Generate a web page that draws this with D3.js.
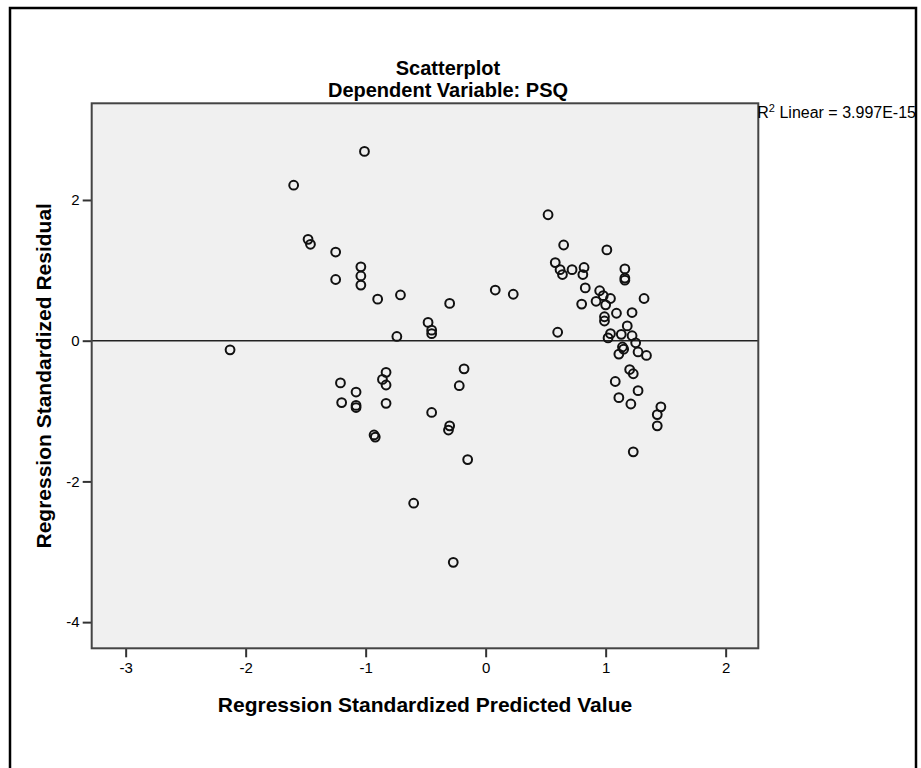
<!DOCTYPE html>
<html>
<head>
<meta charset="utf-8">
<script src="https://cdn.jsdelivr.net/npm/d3@7"></script>
<style>
  body { margin: 0; background: #fff; }
  text { font-family: Arial, 'Liberation Sans', sans-serif; fill: #000; }
</style>
</head>
<body>
<div id="chart"></div>
<script>
// 标题和文字
const titleText = 'Scatterplot'
const subTitleText = 'Dependent Variable: PSQ'
const xtitle = 'Regression Standardized Predicted Value'
const ytitle = 'Regression Standardized Residual'
const r2Text = ' Linear = 3.997E-15'

// 刻度
const xTicks = [-3, -2, -1, 0, 1, 2]
const yTicks = [-4, -2, 0, 2]

// 散点数据 (预测值, 残差)
const predicted = [
  -1.01, -1.60, -1.48, -1.46, -1.25, -1.25, -1.04, -1.04, -1.04, -0.90,
  -2.13, -0.71, -0.30, 0.08, 0.23, -0.48, -0.45, -0.45, -0.74, -0.18,
  -0.22, -0.83, -0.86, -0.83, -1.21, -1.08, -1.20, -1.08, -1.08, -0.83,
  -0.45, -0.30, -0.31, -0.93, -0.92, -0.15, -0.60, -0.27,
  0.52, 0.65, 1.01, 0.58, 0.62, 0.64, 0.72, 0.82, 0.81, 1.16,
  1.16, 1.16, 0.83, 1.32, 0.95, 0.98, 1.04, 0.92, 1.00, 0.80,
  1.09, 1.22, 0.99, 0.99, 1.18, 0.60, 1.04, 1.02, 1.13, 1.22,
  1.25, 1.14, 1.15, 1.11, 1.27, 1.34, 1.20, 1.23, 1.08, 1.27,
  1.11, 1.21, 1.46, 1.43, 1.43, 1.23
]
const residual = [
  2.69, 2.21, 1.44, 1.37, 1.26, 0.87, 1.05, 0.92, 0.79, 0.59,
  -0.13, 0.65, 0.53, 0.72, 0.66, 0.26, 0.15, 0.10, 0.06, -0.40,
  -0.64, -0.45, -0.55, -0.63, -0.60, -0.73, -0.88, -0.92, -0.95, -0.89,
  -1.02, -1.21, -1.27, -1.34, -1.37, -1.69, -2.31, -3.15,
  1.79, 1.36, 1.29, 1.11, 1.01, 0.94, 1.01, 1.04, 0.94, 1.02,
  0.89, 0.86, 0.75, 0.60, 0.71, 0.64, 0.60, 0.56, 0.51, 0.52,
  0.39, 0.40, 0.34, 0.28, 0.21, 0.12, 0.10, 0.04, 0.09, 0.07,
  -0.03, -0.09, -0.12, -0.19, -0.16, -0.21, -0.41, -0.47, -0.58, -0.71,
  -0.81, -0.90, -0.94, -1.05, -1.21, -1.58
]

const xDomain = [-3.283, 2.272]
const yDomain = [-4.372, 3.374]

const width = 921
const height = 768
const plot = { left: 91.7, top: 103.3, right: 758.3, bottom: 648.3 }

let svg = d3.select('#chart').append('svg').attr('width', width).attr('height', height)

// 外框
svg.append('rect').attr('x', 10).attr('y', 8).attr('width', 906).attr('height', 800)
  .attr('fill', '#fff').attr('stroke', '#000').attr('stroke-width', 2.5)

// 标题
const midX = 448
svg.append('text').attr('x', midX).attr('y', 75).attr('text-anchor', 'middle')
  .attr('style', 'font-size: 20px; font-weight: bold;').text(titleText)
svg.append('text').attr('x', midX).attr('y', 97).attr('text-anchor', 'middle')
  .attr('style', 'font-size: 20px; font-weight: bold;').text(subTitleText)

// 比例尺
let xlinear = d3.scaleLinear().domain(xDomain).range([plot.left, plot.right])
let ylinear = d3.scaleLinear().domain(yDomain).range([plot.bottom, plot.top])

// 背景
svg.append('rect').attr('x', plot.left).attr('y', plot.top)
  .attr('width', plot.right - plot.left).attr('height', plot.bottom - plot.top)
  .attr('fill', '#f0f0f0')

// 横坐标
let xAxis = d3.axisBottom(xlinear).tickValues(xTicks).tickSize(9).tickPadding(5).tickFormat(d => String(d))
let gx = svg.append('g').attr('class', 'xAxis').attr('transform', 'translate(0,' + plot.bottom + ')').call(xAxis)
gx.select('.domain').remove()
gx.selectAll('line').attr('stroke', '#333').attr('stroke-width', 2)
gx.selectAll('text').attr('style', 'font-size: 15px;')

// 纵坐标
let yAxis = d3.axisLeft(ylinear).tickValues(yTicks).tickSize(9).tickPadding(3).tickFormat(d => String(d))
let gy = svg.append('g').attr('class', 'yAxis').attr('transform', 'translate(' + plot.left + ',0)').call(yAxis)
gy.select('.domain').remove()
gy.selectAll('line').attr('stroke', '#333').attr('stroke-width', 2)
gy.selectAll('text').attr('style', 'font-size: 15px;')

// 零线
svg.append('line').attr('x1', plot.left).attr('x2', plot.right)
  .attr('y1', ylinear(0)).attr('y2', ylinear(0))
  .attr('stroke', '#222').attr('stroke-width', 1.6)

// 散点
let points = predicted.map((x, i) => ({ x: x, y: residual[i] }))
svg.append('g').selectAll('circle').data(points).enter().append('circle')
  .attr('cx', d => xlinear(d.x))
  .attr('cy', d => ylinear(d.y))
  .attr('r', 4.4)
  .attr('fill', 'none')
  .attr('stroke', '#111')
  .attr('stroke-width', 2)

// 绘图区边框
svg.append('rect').attr('x', plot.left).attr('y', plot.top)
  .attr('width', plot.right - plot.left).attr('height', plot.bottom - plot.top)
  .attr('fill', 'none').attr('stroke', '#444').attr('stroke-width', 2)

// R2 标注
let r2 = svg.append('text').attr('x', plot.right - 1).attr('y', 118).attr('style', 'font-size: 16px;')
r2.append('tspan').text('R')
r2.append('tspan').attr('dy', -6).attr('style', 'font-size: 11px;').text('2')
r2.append('tspan').attr('dy', 6).text(r2Text)

// 坐标轴标题
svg.append('text').attr('x', (plot.left + plot.right) / 2).attr('y', 712).attr('text-anchor', 'middle')
  .attr('style', 'font-size: 21px; font-weight: bold;').text(xtitle)
svg.append('text').attr('transform', 'translate(51,' + ((plot.top + plot.bottom) / 2) + ') rotate(-90)')
  .attr('text-anchor', 'middle')
  .attr('style', 'font-size: 21px; font-weight: bold;').text(ytitle)
</script>
</body>
</html>
